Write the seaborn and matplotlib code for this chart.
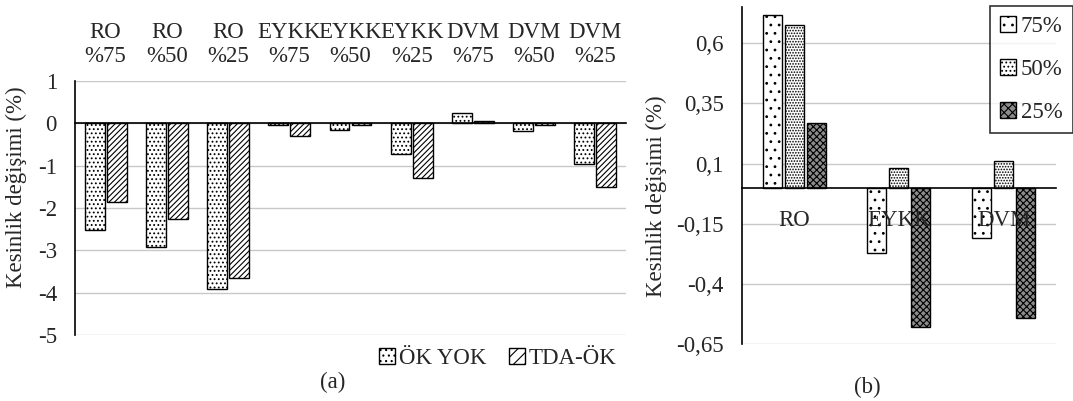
import pandas as pd
import matplotlib.pyplot as plt
import seaborn as sns
from matplotlib.patches import Patch

# ---------------------------------------------------------------------------
# Data
# ---------------------------------------------------------------------------

cats_a = ["RO\n%75", "RO\n%50", "RO\n%25", "EYKK\n%75", "EYKK\n%50",
          "EYKK\n%25", "DVM\n%75", "DVM\n%50", "DVM\n%25"]
ok_yok = [-2.53, -2.93, -3.92, -0.05, -0.15, -0.72, 0.25, -0.17, -0.96]
tda_ok = [-1.87, -2.27, -3.66, -0.31, -0.05, -1.29, 0.05, -0.05, -1.50]
series_a = ["ÖK YOK", "TDA-ÖK"]

cats_b = ["RO", "EYKK", "DVM"]
p75 = [0.717, -0.27, -0.21]
p50 = [0.675, 0.08, 0.11]
p25 = [0.267, -0.58, -0.54]
series_b = ["75%", "50%", "25%"]

ticks_a = [1, 0, -1, -2, -3, -4, -5]
ticks_b = [0.6, 0.35, 0.1, -0.15, -0.4, -0.65]

# ---------------------------------------------------------------------------
# Style
# ---------------------------------------------------------------------------

sns.set_theme(style="white")
plt.rcParams["font.family"] = ["Liberation Serif", "DejaVu Serif"]
plt.rcParams["axes.unicode_minus"] = False
plt.rcParams["hatch.linewidth"] = 0.8
FS = 16.5

df_a = pd.DataFrame({
    "cat": cats_a * 2,
    "val": ok_yok + tda_ok,
    "seri": [series_a[0]] * len(cats_a) + [series_a[1]] * len(cats_a),
})
df_b = pd.DataFrame({
    "cat": cats_b * 3,
    "val": p75 + p50 + p25,
    "seri": sum([[s] * len(cats_b) for s in series_b], []),
})

fig = plt.figure(figsize=(10.73, 4.01), dpi=100)
ax_a = fig.add_axes([0.0699, 0.1646, 0.5135, 0.6334])
ax_b = fig.add_axes([0.6915, 0.142, 0.2925, 0.8405])

# ---------------------------------------------------------------------------
# Panel (a)
# ---------------------------------------------------------------------------

sns.barplot(data=df_a, x="cat", y="val", hue="seri", order=cats_a,
            hue_order=series_a, width=0.72, gap=0.1, ax=ax_a,
            edgecolor="black", linewidth=1, legend=False)
hatches_a = ["....", "//////"]
for cont, h in zip(ax_a.containers, hatches_a):
    for bar in cont:
        bar.set_facecolor("white")
        bar.set_hatch(h)

ax_a.set_ylim(-5, 1)
ax_a.set_xlim(-0.5, len(cats_a) - 0.5)
ax_a.set_yticks(ticks_a)
ax_a.set_yticklabels([str(t) for t in ticks_a], fontsize=FS)
ax_a.yaxis.grid(True, color="#c8c8c8", linewidth=1)
ax_a.set_axisbelow(True)
ax_a.xaxis.tick_top()
ax_a.tick_params(axis="x", length=0, pad=10, labelsize=FS)
ax_a.tick_params(axis="y", length=0, pad=13)
for lbl in ax_a.get_xticklabels():
    lbl.set_linespacing(1.0)
ax_a.set_xlabel("")
ax_a.set_ylabel("Kesinlik değişimi (%)", fontsize=FS)
ax_a.yaxis.set_label_coords(-0.087, 0.58)
for s in ["top", "right"]:
    ax_a.spines[s].set_visible(False)
ax_a.spines["bottom"].set_position(("data", 0))
ax_a.spines["bottom"].set_color("black")
ax_a.spines["left"].set_color("black")
ax_a.spines["left"].set_linewidth(1.2)
ax_a.spines["bottom"].set_linewidth(1.2)

handles_a = [Patch(facecolor="white", edgecolor="black", hatch=h, label=l)
             for h, l in zip(["...", "///"], series_a)]
fig.legend(handles=handles_a, loc="center", bbox_to_anchor=(0.464, 0.107),
           ncol=2, frameon=False, fontsize=FS, handlelength=0.7,
           handleheight=0.7, handletextpad=0.15, columnspacing=1.0)
fig.text(0.31, 0.047, "(a)", ha="center", va="center", fontsize=FS)

# ---------------------------------------------------------------------------
# Panel (b)
# ---------------------------------------------------------------------------

sns.barplot(data=df_b, x="cat", y="val", hue="seri", order=cats_b,
            hue_order=series_b, width=0.63, gap=0.14, ax=ax_b,
            edgecolor="black", linewidth=1, legend=False)
hatches_b = ["..", "......", "xxxxx"]
faces_b = ["white", "white", "#8c8c8c"]
for cont, h, fc in zip(ax_b.containers, hatches_b, faces_b):
    for bar in cont:
        bar.set_facecolor(fc)
        bar.set_hatch(h)

ax_b.set_ylim(-0.65, 0.75)
ax_b.set_xlim(-0.5, len(cats_b) - 0.5)
ax_b.set_yticks(ticks_b)
ax_b.set_yticklabels([f"{t:g}".replace(".", ",") for t in ticks_b], fontsize=FS)
ax_b.yaxis.grid(True, color="#c8c8c8", linewidth=1)
ax_b.set_axisbelow(True)
ax_b.xaxis.set_zorder(5)
ax_b.tick_params(axis="x", length=0, pad=16, labelsize=FS)
ax_b.tick_params(axis="y", length=0, pad=13)
ax_b.set_xlabel("")
ax_b.set_ylabel("Kesinlik değişimi (%)", fontsize=FS)
ax_b.yaxis.set_label_coords(-0.24, 0.44)
for s in ["top", "right"]:
    ax_b.spines[s].set_visible(False)
ax_b.spines["bottom"].set_position(("data", 0))
ax_b.spines["bottom"].set_color("black")
ax_b.spines["left"].set_color("black")
ax_b.spines["left"].set_linewidth(1.2)
ax_b.spines["bottom"].set_linewidth(1.2)

handles_b = [Patch(facecolor=fc, edgecolor="black", hatch=h, label=l)
             for h, fc, l in zip(["..", "....", "xxxx"], faces_b, series_b)]
leg = fig.legend(handles=handles_b, loc="upper right",
                 bbox_to_anchor=(1.0, 0.985), frameon=True, fancybox=False,
                 fontsize=FS, handlelength=0.7, handleheight=0.7,
                 handletextpad=0.2, labelspacing=0.95, borderpad=0.45,
                 borderaxespad=0.0)
leg.get_frame().set_edgecolor("black")
leg.get_frame().set_linewidth(1.2)
fig.text(0.808, 0.035, "(b)", ha="center", va="center", fontsize=FS)

fig.savefig("out.png", dpi=100)
